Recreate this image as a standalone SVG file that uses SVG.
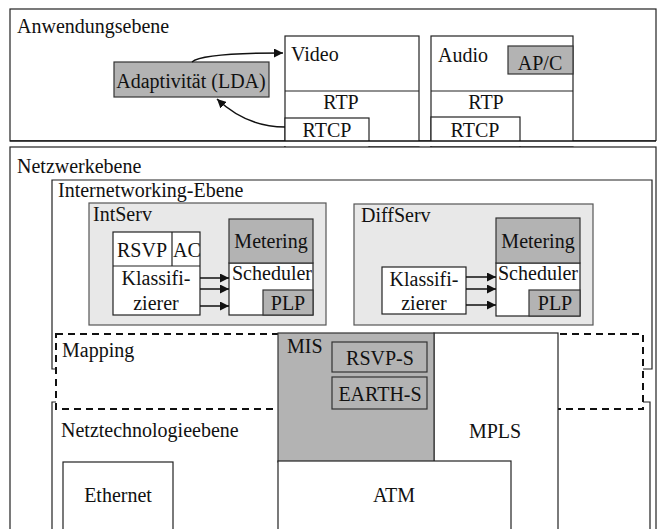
<svg xmlns="http://www.w3.org/2000/svg" width="658" height="529" viewBox="0 0 658 529" font-family="'Liberation Serif', Tinos, 'Times New Roman', Times, 'DejaVu Serif', serif">
<style>
text{font-family:"Liberation Serif",Tinos,"Times New Roman",Times,"DejaVu Serif",serif;font-size:20px;fill:#111}
.m{text-anchor:middle}
.b{fill:#fff;stroke:#222;stroke-width:1.2}
.g{fill:#b3b3b3;stroke:#333;stroke-width:1.2}
.l{fill:#e8e8e8;stroke:#555;stroke-width:1.2}
.ln{fill:none;stroke:#222;stroke-width:1.2}
.c{fill:none;stroke:#111;stroke-width:1.5}
.d{fill:none;stroke:#111;stroke-width:2;stroke-dasharray:7,5}
</style>
<defs>
<marker id="ah" viewBox="0 0 10 10" refX="10" refY="5" markerWidth="9" markerHeight="9" markerUnits="userSpaceOnUse" orient="auto">
<path d="M0,0 L10,5 L0,10 Z" fill="#111"/>
</marker>
</defs>
<rect width="658" height="529" fill="#fff"/>

<g id="anwendungsebene">
<rect class="b" x="10" y="9" width="646" height="132" stroke-width="1.5"/>
<text x="17" y="33">Anwendungsebene</text>
</g>
<g id="video">
<rect class="b" x="285" y="36" width="134" height="110"/>
<line class="ln" x1="285" y1="91" x2="419" y2="91"/>
<text x="291" y="61">Video</text>
<text x="341" y="109" class="m">RTP</text>
<rect class="b" x="285" y="118" width="84" height="30"/>
<text x="327" y="137" class="m">RTCP</text>
</g>
<g id="audio">
<rect class="b" x="431" y="36" width="142" height="110"/>
<line class="ln" x1="431" y1="91" x2="573" y2="91"/>
<text x="438" y="62">Audio</text>
<rect class="g" x="508" y="46" width="65" height="28"/>
<text x="540" y="70" class="m">AP/C</text>
<text x="486" y="109" class="m">RTP</text>
<rect class="b" x="431" y="117" width="89" height="30"/>
<text x="475" y="137" class="m">RTCP</text>
</g>
<rect x="10" y="141" width="647" height="5" fill="#fff"/>
<line x1="10" y1="141" x2="656" y2="141" stroke="#111" stroke-width="1.5"/>
<g id="lda">
<rect class="g" x="114" y="62" width="155" height="35"/>
<text x="191" y="88" class="m">Adaptivität (LDA)</text>
</g>

<g id="netzwerkebene">
<rect class="b" x="10" y="147" width="646" height="400" stroke-width="1.5"/>
<text x="17" y="173">Netzwerkebene</text>
</g>
<g id="internetworking">
<path class="ln" d="M56,369 L52,369 L52,180 L652,180 L652,369 L643,369"/>
<text x="58" y="197">Internetworking-Ebene</text>
</g>
<g id="netztechnologie">
<path class="ln" d="M56,402 L52,402 L52,540 M643,402 L650,402 L650,540"/>
<text x="61" y="437">Netztechnologieebene</text>
</g>

<g id="intserv">
<rect class="l" x="89" y="203" width="237" height="122"/>
<text x="93" y="221">IntServ</text>
<rect class="b" x="113" y="232" width="87" height="83"/>
<line class="ln" x1="113" y1="266" x2="200" y2="266"/>
<line class="ln" x1="172" y1="232" x2="172" y2="266"/>
<text x="117" y="257">RSVP</text>
<text x="173" y="257">AC</text>
<text x="156" y="285" class="m">Klassifi-</text>
<text x="156" y="310" class="m">zierer</text>
<rect class="b" x="229" y="263" width="84" height="52"/>
<rect class="g" x="229" y="219" width="84" height="44"/>
<text x="271" y="248" class="m">Metering</text>
<text x="232" y="280">Scheduler</text>
<rect class="g" x="263" y="290" width="50" height="25"/>
<text x="288" y="310" class="m">PLP</text>
</g>
<g id="diffserv">
<rect class="l" x="354" y="204" width="239" height="121"/>
<text x="361" y="222">DiffServ</text>
<rect class="b" x="382" y="267" width="84" height="47"/>
<text x="424" y="286" class="m">Klassifi-</text>
<text x="424" y="310" class="m">zierer</text>
<rect class="b" x="496" y="263" width="84" height="53"/>
<rect class="g" x="496" y="218" width="84" height="45"/>
<text x="538" y="248" class="m">Metering</text>
<text x="498" y="280">Scheduler</text>
<rect class="g" x="529" y="290" width="51" height="26"/>
<text x="555" y="310" class="m">PLP</text>
</g>

<g id="mapping">
<rect class="d" x="56" y="334" width="587" height="75"/>
<text x="62" y="357">Mapping</text>
</g>
<g id="mpls">
<rect class="b" x="434" y="333" width="124" height="210"/>
<text x="495" y="438" class="m">MPLS</text>
</g>
<g id="mis">
<rect class="g" x="278" y="333" width="156" height="129"/>
<text x="287" y="353">MIS</text>
<rect class="g" x="332" y="342" width="95" height="30"/>
<text x="380" y="365" class="m">RSVP-S</text>
<rect class="g" x="332" y="377" width="95" height="32"/>
<text x="380" y="401" class="m">EARTH-S</text>
</g>
<g id="atm">
<rect class="b" x="278" y="461" width="233" height="80"/>
<text x="394" y="502" class="m">ATM</text>
</g>
<g id="ethernet">
<rect class="b" x="63" y="462" width="110" height="80"/>
<text x="118" y="502" class="m">Ethernet</text>
</g>

<g id="connectors">
<path class="c" d="M192,62 C200,55 240,53 283,53" marker-end="url(#ah)"/>
<path class="c" d="M285,127 C260,127 236,117 217,99" marker-end="url(#ah)"/>
<line class="c" x1="200" y1="278" x2="229" y2="278" marker-end="url(#ah)"/>
<line class="c" x1="200" y1="289" x2="229" y2="289" marker-end="url(#ah)"/>
<line class="c" x1="200" y1="306" x2="229" y2="306" marker-end="url(#ah)"/>
<line class="c" x1="466" y1="277" x2="496" y2="277" marker-end="url(#ah)"/>
<line class="c" x1="466" y1="289" x2="496" y2="289" marker-end="url(#ah)"/>
<line class="c" x1="466" y1="305" x2="496" y2="305" marker-end="url(#ah)"/>
</g>
</svg>
